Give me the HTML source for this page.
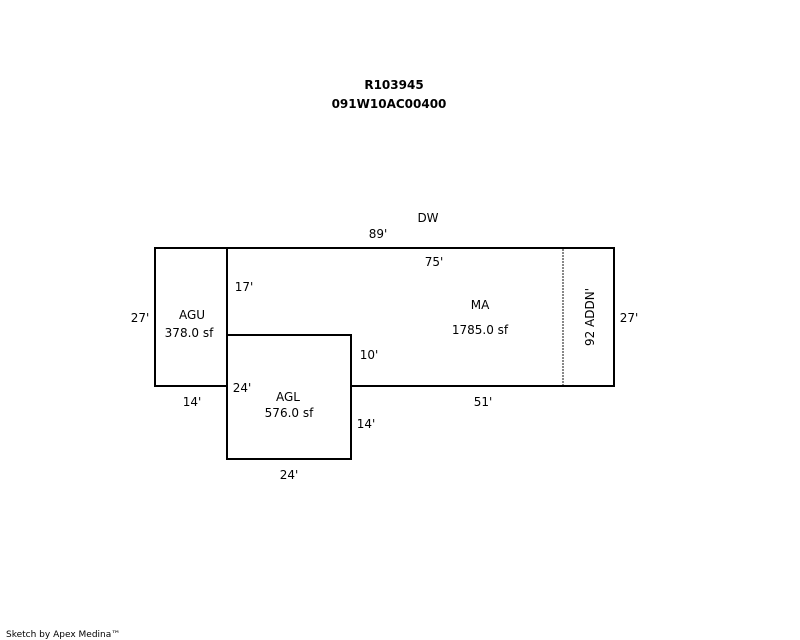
<!DOCTYPE html>
<html><head><meta charset="utf-8"><style>
html,body{margin:0;padding:0;background:#fff;}
svg{display:block;}
text{font-family:"DejaVu Sans","Liberation Sans",sans-serif;font-size:12px;fill:#000;}
</style></head><body>
<svg width="800" height="640" viewBox="0 0 800 640" xmlns="http://www.w3.org/2000/svg">
<text x="394" y="89" text-anchor="middle" style="font-weight:bold">R103945</text>
<text x="389" y="108" text-anchor="middle" style="font-weight:bold">091W10AC00400</text>
<text x="428" y="222" text-anchor="middle">DW</text>
<text x="378" y="238" text-anchor="middle">89'</text>
<g fill="none" stroke="#000" stroke-width="2">
<rect x="155" y="248" width="72" height="138"/>
<rect x="227" y="248" width="387" height="138"/>
<rect x="227" y="335" width="124" height="124" fill="#fff"/>
</g>
<line x1="563" y1="249" x2="563" y2="385" stroke="#888" stroke-width="2" stroke-dasharray="2,1"/>
<text x="434" y="266" text-anchor="middle">75'</text>
<text x="244" y="291" text-anchor="middle">17'</text>
<text x="480" y="309" text-anchor="middle">MA</text>
<text x="480" y="334" text-anchor="middle">1785.0 sf</text>
<text x="369" y="359" text-anchor="middle">10'</text>
<text x="192" y="319" text-anchor="middle">AGU</text>
<text x="189" y="337" text-anchor="middle">378.0 sf</text>
<text x="140" y="322" text-anchor="middle">27'</text>
<text x="629" y="322" text-anchor="middle">27'</text>
<text x="0" y="0" text-anchor="middle" transform="translate(594,317) rotate(-90)">92 ADDN'</text>
<text x="242" y="392" text-anchor="middle">24'</text>
<text x="192" y="406" text-anchor="middle">14'</text>
<text x="288" y="401" text-anchor="middle">AGL</text>
<text x="289" y="417" text-anchor="middle">576.0 sf</text>
<text x="483" y="406" text-anchor="middle">51'</text>
<text x="366" y="428" text-anchor="middle">14'</text>
<text x="289" y="479" text-anchor="middle">24'</text>
<text x="6" y="637" style="font-size:9px">Sketch by Apex Medina™</text>
</svg>
</body></html>
